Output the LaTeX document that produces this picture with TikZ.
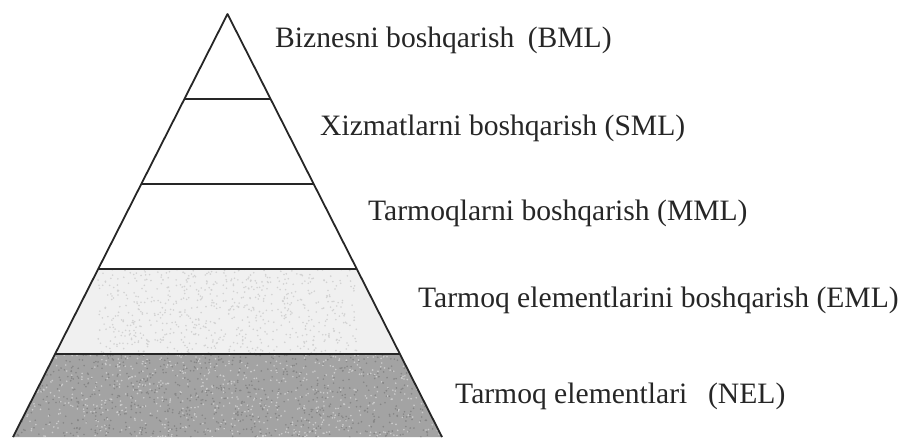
\documentclass[tikz,border=0pt]{standalone}
\usepackage{fontspec}
\setmainfont{Liberation Serif}
\begin{document}
\begin{tikzpicture}[x=1pt,y=-1pt,
  lbl/.style={anchor=base west,inner sep=0pt,font=\fontsize{29.6}{32}\selectfont,text=black!85},
  edge/.style={line width=1.8pt,black!85,line join=round},
  sep/.style={line width=2.2pt,black!85}]
\useasboundingbox (0,0) rectangle (904,437);
\pgfmathsetseed{7}
% vertices
\coordinate (A) at (227.5,14);
\coordinate (L1) at (184.4,99);  \coordinate (R1) at (270.6,99);
\coordinate (L2) at (141.3,184); \coordinate (R2) at (313.7,184);
\coordinate (L3) at (98.2,269);  \coordinate (R3) at (356.8,269);
\coordinate (L4) at (55.1,354);  \coordinate (R4) at (399.9,354);
\coordinate (L5) at (13,437);    \coordinate (R5) at (442,437);
% fills
\fill[gray!12] (L3) -- (R3) -- (R4) -- (L4) -- cycle;
\begin{scope}
  \clip (L3) -- (R3) -- (R4) -- (L4) -- cycle;
  \foreach \i in {1,...,700} {
    \pgfmathsetmacro\rx{98+rnd*259}
    \pgfmathsetmacro\ry{269+rnd*85}
    \fill[gray!35] (\rx,\ry) circle (0.9pt);
  }
\end{scope}
\fill[gray!72] (L4) -- (R4) -- (R5) -- (L5) -- cycle;
\begin{scope}
  \clip (L4) -- (R4) -- (R5) -- (L5) -- cycle;
  \foreach \i in {1,...,900} {
    \pgfmathsetmacro\rx{13+rnd*429}
    \pgfmathsetmacro\ry{354+rnd*83}
    \fill[gray!95] (\rx,\ry) circle (0.9pt);
  }
  \foreach \i in {1,...,700} {
    \pgfmathsetmacro\rx{13+rnd*429}
    \pgfmathsetmacro\ry{354+rnd*83}
    \fill[gray!40] (\rx,\ry) circle (0.9pt);
  }
\end{scope}
% separators
\draw[sep] (L1) -- (R1);
\draw[sep] (L2) -- (R2);
\draw[sep] (L3) -- (R3);
\draw[sep] (L4) -- (R4);
% sides
\draw[edge] (L5) -- (A) -- (R5);
% labels
\node[lbl] (bml) at (275,47) {Biznesni boshqarish\hspace{0.45em}(BML)};
\node[lbl] (sml) at (320,135) {Xizmatlarni boshqarish (SML)};
\node[lbl] (mml) at (368,220) {Tarmoqlarni boshqarish (MML)};
\node[lbl] (eml) at (418,307) {Tarmoq elementlarini boshqarish (EML)};
\node[lbl] (nel) at (455,403) {Tarmoq elementlari\hspace{0.7em}(NEL)};
\end{tikzpicture}
\end{document}
